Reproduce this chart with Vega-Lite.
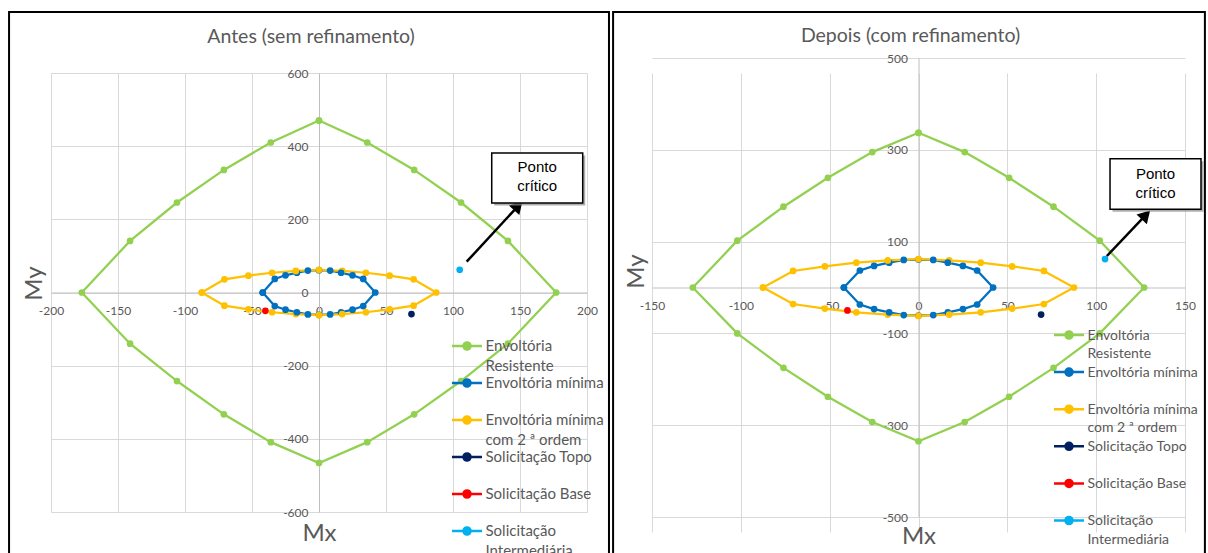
{
  "$schema": "https://vega.github.io/schema/vega-lite/v6.json",
  "background": "white",
  "padding": {"left": 8, "top": 10, "right": 0, "bottom": 0},
  "spacing": 2,
  "columns": 2,
  "align": "none",
  "resolve": {"scale": {"color": "independent"}, "legend": {"color": "independent"}},
  "datasets": {
    "resistente_antes": [
      {"serie": "Envoltória Resistente", "ordem": 1, "Mx": 0, "My": 470},
      {"serie": "Envoltória Resistente", "ordem": 2, "Mx": 36, "My": 410},
      {"serie": "Envoltória Resistente", "ordem": 3, "Mx": 71, "My": 335},
      {"serie": "Envoltória Resistente", "ordem": 4, "Mx": 106, "My": 246},
      {"serie": "Envoltória Resistente", "ordem": 5, "Mx": 141, "My": 141},
      {"serie": "Envoltória Resistente", "ordem": 6, "Mx": 177, "My": 0},
      {"serie": "Envoltória Resistente", "ordem": 7, "Mx": 141, "My": -140},
      {"serie": "Envoltória Resistente", "ordem": 8, "Mx": 106, "My": -242},
      {"serie": "Envoltória Resistente", "ordem": 9, "Mx": 71, "My": -333},
      {"serie": "Envoltória Resistente", "ordem": 10, "Mx": 36, "My": -409},
      {"serie": "Envoltória Resistente", "ordem": 11, "Mx": 0, "My": -466},
      {"serie": "Envoltória Resistente", "ordem": 12, "Mx": -36, "My": -409},
      {"serie": "Envoltória Resistente", "ordem": 13, "Mx": -71, "My": -333},
      {"serie": "Envoltória Resistente", "ordem": 14, "Mx": -106, "My": -242},
      {"serie": "Envoltória Resistente", "ordem": 15, "Mx": -141, "My": -140},
      {"serie": "Envoltória Resistente", "ordem": 16, "Mx": -177, "My": 0},
      {"serie": "Envoltória Resistente", "ordem": 17, "Mx": -141, "My": 141},
      {"serie": "Envoltória Resistente", "ordem": 18, "Mx": -106, "My": 246},
      {"serie": "Envoltória Resistente", "ordem": 19, "Mx": -71, "My": 335},
      {"serie": "Envoltória Resistente", "ordem": 20, "Mx": -36, "My": 410},
      {"serie": "Envoltória Resistente", "ordem": 21, "Mx": 0, "My": 470}
    ],
    "resistente_depois": [
      {"serie": "Envoltória Resistente", "ordem": 1, "Mx": 0, "My": 337},
      {"serie": "Envoltória Resistente", "ordem": 2, "Mx": 26, "My": 295},
      {"serie": "Envoltória Resistente", "ordem": 3, "Mx": 51, "My": 239},
      {"serie": "Envoltória Resistente", "ordem": 4, "Mx": 76, "My": 176},
      {"serie": "Envoltória Resistente", "ordem": 5, "Mx": 102, "My": 102},
      {"serie": "Envoltória Resistente", "ordem": 6, "Mx": 127, "My": 0},
      {"serie": "Envoltória Resistente", "ordem": 7, "Mx": 102, "My": -100},
      {"serie": "Envoltória Resistente", "ordem": 8, "Mx": 76, "My": -175},
      {"serie": "Envoltória Resistente", "ordem": 9, "Mx": 51, "My": -238},
      {"serie": "Envoltória Resistente", "ordem": 10, "Mx": 26, "My": -293},
      {"serie": "Envoltória Resistente", "ordem": 11, "Mx": 0, "My": -335},
      {"serie": "Envoltória Resistente", "ordem": 12, "Mx": -26, "My": -293},
      {"serie": "Envoltória Resistente", "ordem": 13, "Mx": -51, "My": -238},
      {"serie": "Envoltória Resistente", "ordem": 14, "Mx": -76, "My": -175},
      {"serie": "Envoltória Resistente", "ordem": 15, "Mx": -102, "My": -100},
      {"serie": "Envoltória Resistente", "ordem": 16, "Mx": -127, "My": 0},
      {"serie": "Envoltória Resistente", "ordem": 17, "Mx": -102, "My": 102},
      {"serie": "Envoltória Resistente", "ordem": 18, "Mx": -76, "My": 176},
      {"serie": "Envoltória Resistente", "ordem": 19, "Mx": -51, "My": 239},
      {"serie": "Envoltória Resistente", "ordem": 20, "Mx": -26, "My": 295},
      {"serie": "Envoltória Resistente", "ordem": 21, "Mx": 0, "My": 337}
    ],
    "comuns": [
      {"serie": "Envoltória mínima", "ordem": 1, "Mx": -42, "My": 0},
      {"serie": "Envoltória mínima", "ordem": 2, "Mx": -33, "My": 37},
      {"serie": "Envoltória mínima", "ordem": 3, "Mx": -25, "My": 47},
      {"serie": "Envoltória mínima", "ordem": 4, "Mx": -16.5, "My": 54},
      {"serie": "Envoltória mínima", "ordem": 5, "Mx": -8.3, "My": 60},
      {"serie": "Envoltória mínima", "ordem": 6, "Mx": 0, "My": 61},
      {"serie": "Envoltória mínima", "ordem": 7, "Mx": 8.3, "My": 60},
      {"serie": "Envoltória mínima", "ordem": 8, "Mx": 16.5, "My": 54},
      {"serie": "Envoltória mínima", "ordem": 9, "Mx": 25, "My": 47},
      {"serie": "Envoltória mínima", "ordem": 10, "Mx": 33, "My": 37},
      {"serie": "Envoltória mínima", "ordem": 11, "Mx": 42, "My": 0},
      {"serie": "Envoltória mínima", "ordem": 12, "Mx": 33, "My": -37},
      {"serie": "Envoltória mínima", "ordem": 13, "Mx": 25, "My": -47},
      {"serie": "Envoltória mínima", "ordem": 14, "Mx": 16.5, "My": -54},
      {"serie": "Envoltória mínima", "ordem": 15, "Mx": 8.3, "My": -60},
      {"serie": "Envoltória mínima", "ordem": 16, "Mx": 0, "My": -61},
      {"serie": "Envoltória mínima", "ordem": 17, "Mx": -8.3, "My": -60},
      {"serie": "Envoltória mínima", "ordem": 18, "Mx": -16.5, "My": -54},
      {"serie": "Envoltória mínima", "ordem": 19, "Mx": -25, "My": -47},
      {"serie": "Envoltória mínima", "ordem": 20, "Mx": -33, "My": -37},
      {"serie": "Envoltória mínima", "ordem": 21, "Mx": -42, "My": 0},
      {"serie": "Envoltória mínima com 2 ª ordem", "ordem": 1, "Mx": -87.5, "My": 0},
      {"serie": "Envoltória mínima com 2 ª ordem", "ordem": 2, "Mx": -70.6, "My": 36},
      {"serie": "Envoltória mínima com 2 ª ordem", "ordem": 3, "Mx": -52.7, "My": 46},
      {"serie": "Envoltória mínima com 2 ª ordem", "ordem": 4, "Mx": -35, "My": 54},
      {"serie": "Envoltória mínima com 2 ª ordem", "ordem": 5, "Mx": -17.3, "My": 59},
      {"serie": "Envoltória mínima com 2 ª ordem", "ordem": 6, "Mx": 0, "My": 62},
      {"serie": "Envoltória mínima com 2 ª ordem", "ordem": 7, "Mx": 17.3, "My": 59},
      {"serie": "Envoltória mínima com 2 ª ordem", "ordem": 8, "Mx": 35, "My": 54},
      {"serie": "Envoltória mínima com 2 ª ordem", "ordem": 9, "Mx": 52.7, "My": 46},
      {"serie": "Envoltória mínima com 2 ª ordem", "ordem": 10, "Mx": 70.6, "My": 36},
      {"serie": "Envoltória mínima com 2 ª ordem", "ordem": 11, "Mx": 87.5, "My": 0},
      {"serie": "Envoltória mínima com 2 ª ordem", "ordem": 12, "Mx": 70.6, "My": -36},
      {"serie": "Envoltória mínima com 2 ª ordem", "ordem": 13, "Mx": 52.7, "My": -46},
      {"serie": "Envoltória mínima com 2 ª ordem", "ordem": 14, "Mx": 35, "My": -54},
      {"serie": "Envoltória mínima com 2 ª ordem", "ordem": 15, "Mx": 17.3, "My": -59},
      {"serie": "Envoltória mínima com 2 ª ordem", "ordem": 16, "Mx": 0, "My": -62},
      {"serie": "Envoltória mínima com 2 ª ordem", "ordem": 17, "Mx": -17.3, "My": -59},
      {"serie": "Envoltória mínima com 2 ª ordem", "ordem": 18, "Mx": -35, "My": -54},
      {"serie": "Envoltória mínima com 2 ª ordem", "ordem": 19, "Mx": -52.7, "My": -46},
      {"serie": "Envoltória mínima com 2 ª ordem", "ordem": 20, "Mx": -70.6, "My": -36},
      {"serie": "Envoltória mínima com 2 ª ordem", "ordem": 21, "Mx": -87.5, "My": 0},
      {"serie": "Solicitação Topo", "ordem": 1, "Mx": 69, "My": -59},
      {"serie": "Solicitação Base", "ordem": 1, "Mx": -40, "My": -50},
      {"serie": "Solicitação Intermediária", "ordem": 1, "Mx": 105, "My": 62}
    ]
  },
  "config": {
    "view": {"stroke": null},
    "font": "Lato",
    "axis": {
      "grid": true, "gridColor": "#d9d9d9", "gridWidth": 1,
      "domain": true, "domainColor": "#bfbfbf", "domainWidth": 1,
      "ticks": false,
      "labelFont": "Lato", "labelFontSize": 12, "labelColor": "#595959",
      "labelFlush": false, "labelOverlap": false, "labelBound": false,
      "labelExpr": "replace(datum.label, '−', '-')",
      "titleFont": "Lato", "titleFontSize": 24, "titleFontWeight": "normal", "titleColor": "#595959",
      "titleAlign": "center", "titleBaseline": "middle"
    },
    "axisX": {"labelPadding": 13},
    "axisY": {"labelPadding": 11},
    "legend": {
      "title": null,
      "labelFont": "Lato", "labelColor": "#595959", "labelLimit": 300,
      "labelBaseline": "top", "labelOffset": 9.5,
      "symbolType": "M-2,0L2,0M-0.47,0A0.47,0.47,0,1,0,0.47,0A0.47,0.47,0,1,0,-0.47,0Z",
      "symbolSize": 225, "symbolStrokeWidth": 2.5
    },
    "title": {"font": "Lato", "fontSize": 19.5, "fontWeight": "normal", "color": "#595959"}
  },
  "concat": [
    {
      "width": 536,
      "height": 439,
      "title": {"text": "Antes (sem refinamento)", "frame": "group", "anchor": "middle", "dx": -8, "offset": -37},
      "layer": [
        {
          "data": {"values": [{}]},
          "mark": {"type": "rect", "fillOpacity": 0, "stroke": "black", "strokeWidth": 2},
          "encoding": {
            "x": {"datum": -231.3, "type": "quantitative"},
            "x2": {"datum": 216.4},
            "y": {"datum": 766.8, "type": "quantitative"},
            "y2": {"datum": -760}
          }
        },
        {
          "data": {"name": "resistente_antes"},
          "mark": {"type": "line", "strokeWidth": 2.25, "point": {"filled": true, "size": 45}},
          "encoding": {
            "x": {"field": "Mx", "type": "quantitative",
              "scale": {"domain": [-200, 200], "nice": false, "zero": false},
              "axis": {"title": "Mx", "values": [-200, -150, -100, -50, 0, 50, 100, 150, 200], "offset": -219.5, "titleY": 240.5}},
            "y": {"field": "My", "type": "quantitative",
              "scale": {"domain": [-600, 600], "nice": false, "zero": false},
              "axis": {"title": "My", "values": [-600, -400, -200, 0, 200, 400, 600], "offset": -268, "titleX": -285, "titleY": 210, "titleAngle": -90}},
            "order": {"field": "ordem", "type": "quantitative"},
            "color": {"field": "serie", "type": "nominal",
              "scale": {
                "domain": ["Envoltória Resistente", "Envoltória mínima", "Envoltória mínima com 2 ª ordem", "Solicitação Topo", "Solicitação Base", "Solicitação Intermediária"],
                "range": ["#92d050", "#0070c0", "#ffc000", "#002060", "#ff0000", "#00b0f0"]
              },
              "legend": {
                "orient": "none", "legendX": 407, "legendY": 264, "rowPadding": -1.5, "labelFontSize": 15,
                "labelExpr": "datum.label === 'Envoltória Resistente' ? ['Envoltória', 'Resistente'] : datum.label === 'Envoltória mínima com 2 ª ordem' ? ['Envoltória mínima', 'com 2 ª ordem'] : datum.label === 'Solicitação Intermediária' ? ['Solicitação', 'Intermediária'] : [datum.label, '']",
                "encode": {
                  "symbols": {"update": {
                    "fill": {"signal": "datum.value === 'Envoltória Resistente' ? '#92d050' : datum.value === 'Envoltória mínima' ? '#0070c0' : datum.value === 'Envoltória mínima com 2 ª ordem' ? '#ffc000' : datum.value === 'Solicitação Topo' ? '#002060' : datum.value === 'Solicitação Base' ? '#ff0000' : '#00b0f0'"},
                    "stroke": {"signal": "datum.value === 'Envoltória Resistente' ? '#92d050' : datum.value === 'Envoltória mínima' ? '#0070c0' : datum.value === 'Envoltória mínima com 2 ª ordem' ? '#ffc000' : datum.value === 'Solicitação Topo' ? '#002060' : datum.value === 'Solicitação Base' ? '#ff0000' : '#00b0f0'"},
                    "opacity": {"value": 1}
                  }},
                  "labels": {"update": {"lineHeight": {"value": 20}, "dy": {"value": -7}}}
                }
              }
            }
          }
        },
        {
          "data": {"name": "comuns"},
          "mark": {"type": "line", "strokeWidth": 2.25, "point": {"filled": true, "size": 45}},
          "encoding": {
            "x": {"field": "Mx", "type": "quantitative"},
            "y": {"field": "My", "type": "quantitative"},
            "order": {"field": "ordem", "type": "quantitative"},
            "color": {"field": "serie", "type": "nominal",
              "scale": {
                "domain": ["Envoltória Resistente", "Envoltória mínima", "Envoltória mínima com 2 ª ordem", "Solicitação Topo", "Solicitação Base", "Solicitação Intermediária"],
                "range": ["#92d050", "#0070c0", "#ffc000", "#002060", "#ff0000", "#00b0f0"]
              },
              "legend": null}
          }
        },
        {
          "data": {"values": [{}]},
          "mark": {"type": "rule", "color": "black", "strokeWidth": 2.5},
          "encoding": {
            "x": {"datum": 110.2, "type": "quantitative"},
            "y": {"datum": 84.2, "type": "quantitative"},
            "x2": {"datum": 148.7},
            "y2": {"datum": 237}
          }
        },
        {
          "data": {"values": [{}]},
          "mark": {"type": "point", "shape": "triangle-up", "filled": true, "color": "black", "opacity": 1, "size": 200, "angle": 42.7},
          "encoding": {
            "x": {"datum": 148.7, "type": "quantitative"},
            "y": {"datum": 237, "type": "quantitative"}
          }
        },
        {
          "data": {"values": [{}]},
          "mark": {"type": "rect", "color": "#8c8c8c", "opacity": 0.7, "xOffset": 2.5, "yOffset": 2.5, "x2Offset": 2.5, "y2Offset": 2.5},
          "encoding": {
            "x": {"datum": 128.9, "type": "quantitative"},
            "x2": {"datum": 196.8},
            "y": {"datum": 381.4, "type": "quantitative"},
            "y2": {"datum": 244.7}
          }
        },
        {
          "data": {"values": [{}]},
          "mark": {"type": "rect", "fill": "white", "stroke": "black", "strokeWidth": 1.5},
          "encoding": {
            "x": {"datum": 128.9, "type": "quantitative"},
            "x2": {"datum": 196.8},
            "y": {"datum": 381.4, "type": "quantitative"},
            "y2": {"datum": 244.7}
          }
        },
        {
          "data": {"values": [{}]},
          "mark": {"type": "text", "font": "Liberation Sans", "fontSize": 15, "lineHeight": 19, "align": "center", "baseline": "middle", "color": "black"},
          "encoding": {
            "x": {"datum": 162.8, "type": "quantitative"},
            "y": {"datum": 343, "type": "quantitative"},
            "text": {"value": ["Ponto", "crítico"]}
          }
        }
      ]
    },
    {
      "width": 533,
      "height": 444,
      "title": {"text": "Depois (com refinamento)", "frame": "group", "anchor": "middle", "dx": -8, "offset": -35.5},
      "layer": [
        {
          "data": {"values": [{}]},
          "mark": {"type": "rect", "fillOpacity": 0, "stroke": "black", "strokeWidth": 2},
          "encoding": {
            "x": {"datum": -171.9, "type": "quantitative"},
            "x2": {"datum": 161.2},
            "y": {"datum": 600.2, "type": "quantitative"},
            "y2": {"datum": -620}
          }
        },
        {
          "data": {"name": "resistente_depois"},
          "mark": {"type": "line", "strokeWidth": 2.25, "point": {"filled": true, "size": 45}},
          "encoding": {
            "x": {"field": "Mx", "type": "quantitative",
              "scale": {"domain": [-150, 150], "nice": false, "zero": false},
              "axis": {"title": "Mx", "values": [-150, -100, -50, 0, 50, 100, 150], "offset": -229.5, "titleY": 248.5}},
            "y": {"field": "My", "type": "quantitative",
              "scale": {"domain": [-500, 500], "range": [444, -15], "nice": false, "zero": false},
              "axis": {"title": "My", "values": [-500, -300, -100, 100, 300, 500], "offset": -266.5, "titleX": -282.5, "titleY": 198, "titleAngle": -90}},
            "order": {"field": "ordem", "type": "quantitative"},
            "color": {"field": "serie", "type": "nominal",
              "scale": {
                "domain": ["Envoltória Resistente", "Envoltória mínima", "Envoltória mínima com 2 ª ordem", "Solicitação Topo", "Solicitação Base", "Solicitação Intermediária"],
                "range": ["#92d050", "#0070c0", "#ffc000", "#002060", "#ff0000", "#00b0f0"]
              },
              "legend": {
                "orient": "none", "legendX": 408, "legendY": 253, "rowPadding": 2.1, "labelFontSize": 14,
                "labelExpr": "datum.label === 'Envoltória Resistente' ? ['Envoltória', 'Resistente'] : datum.label === 'Envoltória mínima com 2 ª ordem' ? ['Envoltória mínima', 'com 2 ª ordem'] : datum.label === 'Solicitação Intermediária' ? ['Solicitação', 'Intermediária'] : [datum.label, '']",
                "encode": {
                  "symbols": {"update": {
                    "fill": {"signal": "datum.value === 'Envoltória Resistente' ? '#92d050' : datum.value === 'Envoltória mínima' ? '#0070c0' : datum.value === 'Envoltória mínima com 2 ª ordem' ? '#ffc000' : datum.value === 'Solicitação Topo' ? '#002060' : datum.value === 'Solicitação Base' ? '#ff0000' : '#00b0f0'"},
                    "stroke": {"signal": "datum.value === 'Envoltória Resistente' ? '#92d050' : datum.value === 'Envoltória mínima' ? '#0070c0' : datum.value === 'Envoltória mínima com 2 ª ordem' ? '#ffc000' : datum.value === 'Solicitação Topo' ? '#002060' : datum.value === 'Solicitação Base' ? '#ff0000' : '#00b0f0'"},
                    "opacity": {"value": 1}
                  }},
                  "labels": {"update": {"lineHeight": {"value": 18.5}, "dy": {"value": -6.5}}}
                }
              }
            }
          }
        },
        {
          "data": {"name": "comuns"},
          "mark": {"type": "line", "strokeWidth": 2.25, "point": {"filled": true, "size": 45}},
          "encoding": {
            "x": {"field": "Mx", "type": "quantitative"},
            "y": {"field": "My", "type": "quantitative"},
            "order": {"field": "ordem", "type": "quantitative"},
            "color": {"field": "serie", "type": "nominal",
              "scale": {
                "domain": ["Envoltória Resistente", "Envoltória mínima", "Envoltória mínima com 2 ª ordem", "Solicitação Topo", "Solicitação Base", "Solicitação Intermediária"],
                "range": ["#92d050", "#0070c0", "#ffc000", "#002060", "#ff0000", "#00b0f0"]
              },
              "legend": null}
          }
        },
        {
          "data": {"values": [{}]},
          "mark": {"type": "rule", "color": "black", "strokeWidth": 2.5},
          "encoding": {
            "x": {"datum": 106, "type": "quantitative"},
            "y": {"datum": 68.6, "type": "quantitative"},
            "x2": {"datum": 128},
            "y2": {"datum": 158}
          }
        },
        {
          "data": {"values": [{}]},
          "mark": {"type": "point", "shape": "triangle-up", "filled": true, "color": "black", "opacity": 1, "size": 200, "angle": 43.5},
          "encoding": {
            "x": {"datum": 128, "type": "quantitative"},
            "y": {"datum": 158, "type": "quantitative"}
          }
        },
        {
          "data": {"values": [{}]},
          "mark": {"type": "rect", "color": "#8c8c8c", "opacity": 0.7, "xOffset": 2.5, "yOffset": 2.5, "x2Offset": 2.5, "y2Offset": 2.5},
          "encoding": {
            "x": {"datum": 107.8, "type": "quantitative"},
            "x2": {"datum": 159},
            "y": {"datum": 280.6, "type": "quantitative"},
            "y2": {"datum": 170.4}
          }
        },
        {
          "data": {"values": [{}]},
          "mark": {"type": "rect", "fill": "white", "stroke": "black", "strokeWidth": 1.5},
          "encoding": {
            "x": {"datum": 107.8, "type": "quantitative"},
            "x2": {"datum": 159},
            "y": {"datum": 280.6, "type": "quantitative"},
            "y2": {"datum": 170.4}
          }
        },
        {
          "data": {"values": [{}]},
          "mark": {"type": "text", "font": "Liberation Sans", "fontSize": 15, "lineHeight": 18.5, "align": "center", "baseline": "middle", "color": "black"},
          "encoding": {
            "x": {"datum": 133.4, "type": "quantitative"},
            "y": {"datum": 246.6, "type": "quantitative"},
            "text": {"value": ["Ponto", "crítico"]}
          }
        }
      ]
    }
  ]
}
